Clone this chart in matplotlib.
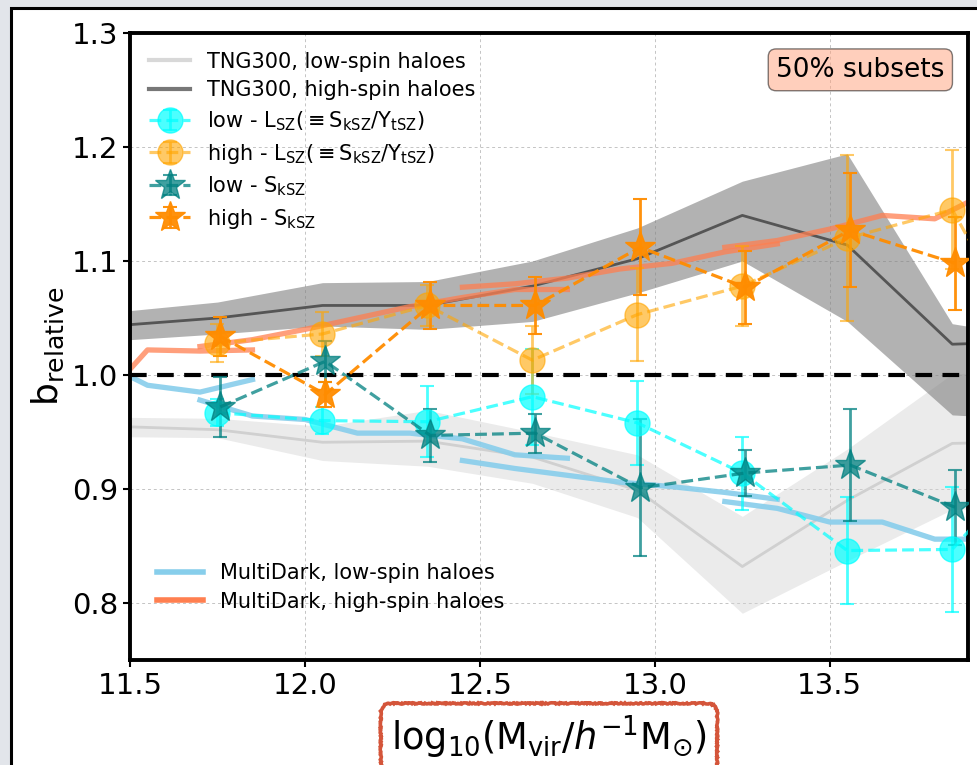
import numpy as np
import matplotlib
matplotlib.use("Agg")
import matplotlib.pyplot as plt
from matplotlib.patches import Rectangle
from matplotlib.lines import Line2D

# halo mass bins (log10 Mvir) of the kSZ/tSZ measurements
mass_bins = [11.75, 12.05, 12.35, 12.65, 12.95, 13.25, 13.55, 13.85, 14.15]

# L_SZ (= S_kSZ / Y_tSZ) relative bias, low / high spin
lsz_low = [0.967, 0.960, 0.959, 0.981, 0.958, 0.914, 0.846, 0.847, 0.950]
lsz_low_err = [0.012, 0.012, 0.031, 0.042, 0.037, 0.032, 0.047, 0.055, 0.05]
lsz_high = [1.028, 1.036, 1.061, 1.013, 1.053, 1.078, 1.120, 1.145, 0.980]
lsz_high_err = [0.017, 0.019, 0.018, 0.030, 0.041, 0.035, 0.073, 0.052, 0.05]

# S_kSZ relative bias, low / high spin
skz_low = [0.972, 1.012, 0.947, 0.949, 0.901, 0.914, 0.921, 0.884]
skz_low_err = [0.026, 0.018, 0.023, 0.017, 0.060, 0.020, 0.049, 0.033]
skz_high = [1.034, 0.983, 1.061, 1.061, 1.112, 1.077, 1.127, 1.098]
skz_high_err = [0.017, 0.011, 0.021, 0.025, 0.042, 0.032, 0.050, 0.041]

# TNG300 relative bias with scatter bands
tng_mass = [11.45, 11.75, 12.05, 12.35, 12.65, 12.95, 13.25, 13.55, 13.85, 14.15]
tng_high = [1.043, 1.050, 1.061, 1.061, 1.078, 1.102, 1.140, 1.114, 1.027, 1.030]
tng_high_lo = [1.030, 1.036, 1.043, 1.040, 1.047, 1.072, 1.100, 1.047, 0.965, 0.960]
tng_high_hi = [1.055, 1.064, 1.081, 1.082, 1.100, 1.129, 1.170, 1.194, 1.045, 1.030]
tng_low = [0.955, 0.952, 0.941, 0.942, 0.928, 0.899, 0.832, 0.890, 0.940, 0.942]
tng_low_lo = [0.946, 0.945, 0.925, 0.920, 0.905, 0.875, 0.791, 0.837, 0.882, 0.885]
tng_low_hi = [0.963, 0.962, 0.955, 0.969, 0.950, 0.930, 0.876, 0.935, 1.001, 1.005]

# MultiDark relative bias, one segment per simulation box
md_mass = [
    [11.4, 11.55, 11.7, 11.85],
    [11.7, 11.85, 12.0, 12.15, 12.3, 12.45, 12.6, 12.75],
    [12.45, 12.6, 12.75, 12.9, 13.05, 13.2, 13.35],
    [13.2, 13.35, 13.5, 13.65, 13.8, 13.95],
]
md_low = [
    [1.014, 0.991, 0.985, 0.996],
    [0.978, 0.964, 0.961, 0.949, 0.949, 0.944, 0.930, 0.927],
    [0.925, 0.918, 0.912, 0.906, 0.902, 0.897, 0.891],
    [0.889, 0.883, 0.871, 0.871, 0.856, 0.856],
]
md_high = [
    [0.971, 1.022, 1.021, 1.022],
    [1.025, 1.031, 1.040, 1.050, 1.060, 1.068, 1.075, 1.075],
    [1.077, 1.080, 1.085, 1.093, 1.098, 1.108, 1.115],
    [1.112, 1.118, 1.128, 1.140, 1.137, 1.160],
]

plt.rcParams["font.family"] = "DejaVu Sans"
plt.rcParams["mathtext.fontset"] = "dejavusans"

fig = plt.figure(figsize=(9.78, 7.65), dpi=100, facecolor="#e2e5ea")
fig.patches.append(Rectangle((11.5 / 978, -0.1), 1.0, 1.1 - 8.5 / 765,
                             transform=fig.transFigure, facecolor="white",
                             edgecolor="black", lw=2.2, zorder=-10))
ax = fig.add_axes([130 / 978, 105 / 765, 838 / 978, 627 / 765])

tm = np.array(tng_mass)
ax.fill_between(tm, tng_low_lo, tng_low_hi, color="lightgray", alpha=0.45, lw=0, zorder=1)
ax.fill_between(tm, tng_high_lo, tng_high_hi, color="gray", alpha=0.6, lw=0, zorder=1)
ax.plot(tm, tng_low, color="#d0d0d0", lw=2, zorder=2)
ax.plot(tm, tng_high, color="#555555", lw=2, zorder=2)

for xs, ys in zip(md_mass, md_low):
    ax.plot(xs, ys, color="skyblue", lw=3.8, alpha=0.9, zorder=2)
for xs, ys in zip(md_mass, md_high):
    ax.plot(xs, ys, color="coral", lw=3.8, alpha=0.75, zorder=2)

ax.axhline(1.0, color="black", ls=(0, (4, 2.5)), lw=3, zorder=2.5)

mb = np.array(mass_bins)
ms = mb[:8] + 0.008
ekw = dict(ls="--", lw=2.3, capsize=5, elinewidth=2, capthick=1.5, zorder=3)
e1 = ax.errorbar(mb, lsz_low, yerr=lsz_low_err, color="cyan", marker="o", ms=18,
                 alpha=0.7, **ekw)
e2 = ax.errorbar(mb, lsz_high, yerr=lsz_high_err, color="orange", marker="o", ms=18,
                 alpha=0.6, **ekw)
e3 = ax.errorbar(ms, skz_low, yerr=skz_low_err, color="teal", marker="*", ms=23,
                 alpha=0.75, **ekw)
e4 = ax.errorbar(ms, skz_high, yerr=skz_high_err, color="darkorange", marker="*", ms=23,
                 alpha=0.95, **ekw)

ax.set_xlim(11.5, 13.895)
ax.set_ylim(0.75, 1.3)
ax.set_xticks([11.5, 12.0, 12.5, 13.0, 13.5])
ax.set_yticks([0.8, 0.9, 1.0, 1.1, 1.2, 1.3])
ax.tick_params(labelsize=21, length=5, width=1.5)
ax.grid(True, ls=(0, (3, 3)), color="#c4c4c4", lw=0.7)
ax.set_axisbelow(True)
for sp in ax.spines.values():
    sp.set_linewidth(2.8)

ax.set_ylabel(r"b$_{\rm relative}$", fontsize=26, labelpad=4)
ax.set_xlabel(r"log$_{10}$(M$_{\rm vir}$/$h^{-1}$M$_{\odot}$)", fontsize=26.5, labelpad=10,
              bbox=dict(boxstyle="round,pad=0.28", facecolor="none",
                        edgecolor="#d4553a", lw=2.6))
ax.xaxis.label.get_bbox_patch().set_sketch_params(0.6, 3, 4)

tng_handles = [Line2D([], [], color="#d8d8d8", lw=3), Line2D([], [], color="#777777", lw=3)]
leg1 = ax.legend(tng_handles + [e1, e2, e3, e4],
                 ["TNG300, low-spin haloes", "TNG300, high-spin haloes",
                  r"low - L$_{\rm SZ}$($\equiv$S$_{\rm kSZ}$/Y$_{\rm tSZ}$)",
                  r"high - L$_{\rm SZ}$($\equiv$S$_{\rm kSZ}$/Y$_{\rm tSZ}$)",
                  r"low - S$_{\rm kSZ}$", r"high - S$_{\rm kSZ}$"],
                 loc="upper left", frameon=False, fontsize=15, handlelength=2.0,
                 labelspacing=0.42)
ax.add_artist(leg1)
md_handles = [Line2D([], [], color="skyblue", lw=4), Line2D([], [], color="coral", lw=4)]
ax.legend(md_handles, ["MultiDark, low-spin haloes", "MultiDark, high-spin haloes"],
          loc="lower left", bbox_to_anchor=(0.01, 0.047), frameon=False, fontsize=15,
          handlelength=2.2, labelspacing=0.42)

ax.text(0.972, 0.962, "50% subsets", transform=ax.transAxes, ha="right", va="top",
        fontsize=19, zorder=5,
        bbox=dict(boxstyle="round", facecolor="lightsalmon", alpha=0.5))

fig.savefig("out.png", dpi=100, facecolor=fig.get_facecolor())
